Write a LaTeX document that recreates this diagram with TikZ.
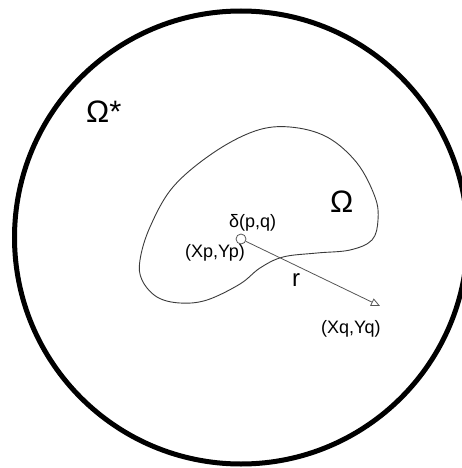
\documentclass[tikz,border=0pt]{standalone}
\usepackage{fontspec}
\setmainfont{Liberation Sans}
\usepackage{xcolor}
\usepackage{tikz}
\usetikzlibrary{arrows.meta, positioning}
\definecolor{edgegray}{HTML}{3A3A3A}
\definecolor{raygray}{HTML}{555555}

\begin{document}
\begin{tikzpicture}[x=1pt, y=-1pt,
  outer/.style={draw=black, line width=5pt},
  boundary/.style={draw=edgegray, line width=0.9pt},
  ray/.style={draw=raygray, line width=0.8pt, -{Triangle[open, length=9pt, width=8pt]}},
  source/.style={circle, draw=raygray, line width=0.8pt, minimum size=10pt, inner sep=0pt},
  lbl/.style={font=\fontsize{18}{20}\selectfont, inner sep=0pt, anchor=base west},
  region/.style={font=\fontsize{31}{34}\selectfont, inner sep=0pt, anchor=base west},
]
  \useasboundingbox (0,0) rectangle (462,468);
  \clip (0,0) rectangle (462,468);

  % enclosing domain
  \draw[outer] (241,237.5) circle (226.5);

  % inner region
  \draw[boundary] plot[smooth cycle, tension=0.6] coordinates {
    (290,127) (327,137) (357,163) (375,197) (378,220) (372,240)
    (350,250) (317,253) (283,257) (260,268) (240,284) (207,300)
    (180,303) (157,297) (142,280) (140,260) (150,227) (173,187)
    (213,153) (255,131)};

  \node[region] (omstar) at (86,122) {Ω*};
  \node[region] (om) at (330,212.5) {Ω};

  \node[source] (p) at (241,239) {};
  \coordinate (q) at (380,306);
  \draw[ray] (p) -- (q);

  \node[lbl] (delta) at (229,227) {δ(p,q)};
  \node[lbl] (xp) at (185,257.5) {(Xp,Yp)};
  \node[lbl, font=\fontsize{24}{26}\selectfont] (r) at (292,286) {r};
  \node[lbl] (xq) at (321,333) {(Xq,Yq)};
\end{tikzpicture}
\end{document}
